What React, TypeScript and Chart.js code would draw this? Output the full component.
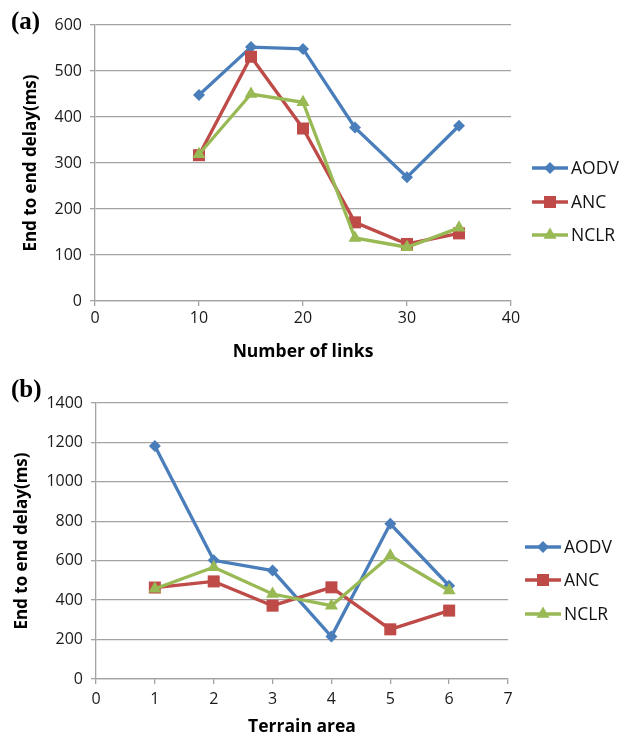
import React, { useEffect, useRef } from 'react';
import { Chart, registerables } from 'chart.js';
Chart.register(...registerables);

// ---- data ----
const linksX = [10, 15, 20, 25, 30, 35];
const aodvLinks = [448, 552, 548, 377, 269, 381];
const ancLinks = [317, 531, 375, 171, 124, 147];
const nclrLinks = [319, 450, 432, 137, 117, 159];

const terrainX = [1, 2, 3, 4, 5, 6];
const aodvTerrain = [1182, 602, 550, 215, 787, 473];
const ancTerrain = [464, 495, 372, 465, 252, 347];
const nclrTerrain = [458, 567, 431, 372, 625, 449];

const seriesNames = ['AODV', 'ANC', 'NCLR'];
const seriesColors = ['#4a7ebb', '#be4b48', '#98b954'];
const seriesMarkers = ['rectRot', 'rect', 'triangle'];
const markerRadius = [6, 8.5, 7.5];

const yTitle = 'End to end delay(ms)';
const FONT = "'Open Sans', 'DejaVu Sans', sans-serif";
const GRID = '#a3a3a3';

function drawMarker(ctx: CanvasRenderingContext2D, style: string, x: number, y: number, r: number) {
  ctx.beginPath();
  if (style === 'rectRot') {
    ctx.moveTo(x, y - r);
    ctx.lineTo(x + r, y);
    ctx.lineTo(x, y + r);
    ctx.lineTo(x - r, y);
  } else if (style === 'rect') {
    const s = r * Math.SQRT1_2;
    ctx.rect(x - s, y - s, 2 * s, 2 * s);
  } else {
    ctx.moveTo(x, y - r);
    ctx.lineTo(x + r * 0.866, y + r / 2);
    ctx.lineTo(x - r * 0.866, y + r / 2);
  }
  ctx.closePath();
  ctx.fill();
}

const sideLegend = {
  id: 'sideLegend',
  afterDraw(chart: any, _args: any, opts: any) {
    const ctx: CanvasRenderingContext2D = chart.ctx;
    ctx.save();
    seriesNames.forEach((name, i) => {
      const y = opts.ys[i];
      ctx.strokeStyle = seriesColors[i];
      ctx.fillStyle = seriesColors[i];
      ctx.lineWidth = 3.3;
      ctx.beginPath();
      ctx.moveTo(opts.x, y);
      ctx.lineTo(opts.x + 36, y);
      ctx.stroke();
      drawMarker(ctx, seriesMarkers[i], opts.x + 18, y, markerRadius[i]);
      ctx.fillStyle = '#111';
      ctx.font = `17.5px ${FONT}`;
      ctx.textBaseline = 'middle';
      ctx.textAlign = 'left';
      ctx.fillText(name, opts.x + 39, y + 1);
    });
    ctx.restore();
  },
};

type PanelProps = {
  top: number;
  height: number;
  xs: number[];
  series: number[][];
  xMax: number;
  xStep: number;
  yMax: number;
  yStep: number;
  xTitle: string;
  letter: string;
  padTop: number;
  padRight: number;
  yWidth: number;
  xHeight: number;
  yTitlePad: number;
  xTitlePad: number;
  xTickPad: number;
  legendX: number;
  legendYs: number[];
};

function Panel(p: PanelProps) {
  const ref = useRef<HTMLCanvasElement>(null);
  useEffect(() => {
    const canvas = ref.current!;
    const datasets = seriesNames.map((name, i) => ({
      label: name,
      data: p.xs.map((x, j) => ({ x, y: p.series[i][j] })),
      borderColor: seriesColors[i],
      backgroundColor: seriesColors[i],
      borderWidth: 3.3,
      pointStyle: seriesMarkers[i],
      pointRadius: markerRadius[i],
      pointBorderWidth: 0,
      pointBackgroundColor: seriesColors[i],
      tension: 0,
      order: 2 - i,
    }));
    const chart = new Chart(canvas, {
      type: 'line',
      data: { datasets },
      plugins: [sideLegend],
      options: {
        animation: false,
        responsive: false,
        devicePixelRatio: 1,
        layout: { padding: { top: p.padTop, right: p.padRight, left: 0, bottom: 0 } },
        plugins: {
          legend: { display: false },
          tooltip: { enabled: false },
          sideLegend: { x: p.legendX, ys: p.legendYs },
        } as any,
        scales: {
          x: {
            type: 'linear',
            min: 0,
            max: p.xMax,
            afterFit: (s: any) => { s.height = p.xHeight; },
            ticks: {
              stepSize: p.xStep,
              color: '#1a1a1a',
              font: { family: FONT, size: 16 },
              padding: p.xTickPad,
              maxRotation: 0,
              callback: (v: any) => String(v),
            },
            grid: { drawOnChartArea: false, drawTicks: true, tickLength: 5, color: GRID, lineWidth: 1.3 },
            border: { color: GRID, width: 1.3 },
            title: {
              display: true,
              text: p.xTitle,
              color: '#000',
              font: { family: FONT, size: 17.5, weight: 'bold' },
              padding: { top: 0, bottom: p.xTitlePad },
            },
          },
          y: {
            type: 'linear',
            min: 0,
            max: p.yMax,
            afterFit: (s: any) => { s.width = p.yWidth; },
            ticks: {
              stepSize: p.yStep,
              color: '#1a1a1a',
              font: { family: FONT, size: 16 },
              padding: 8,
              callback: (v: any) => String(v),
            },
            grid: { color: GRID, lineWidth: 1.3, tickLength: 5 },
            border: { color: GRID, width: 1.3 },
            title: {
              display: true,
              text: yTitle,
              color: '#000',
              font: { family: FONT, size: 17, weight: 'bold' },
              padding: { top: p.yTitlePad, bottom: 0 },
            },
          },
        },
      } as any,
    });
    return () => chart.destroy();
  }, []);
  return (
    <div style={{ position: 'absolute', left: 0, top: p.top, width: 624, height: p.height }}>
      <canvas ref={ref} width={624} height={p.height} style={{ display: 'block' }} />
      <div
        style={{
          position: 'absolute',
          left: 11,
          top: 7,
          fontFamily: "'Liberation Serif', 'DejaVu Serif', serif",
          fontWeight: 'bold',
          fontSize: 25,
          lineHeight: '28px',
          color: '#000',
        }}
      >
        {p.letter}
      </div>
    </div>
  );
}

export default function App() {
  return (
    <div style={{ position: 'absolute', left: 0, top: 0, width: 624, height: 738, background: '#fff' }}>
      <Panel
        top={0}
        height={368}
        xs={linksX}
        series={[aodvLinks, ancLinks, nclrLinks]}
        xMax={40}
        xStep={10}
        yMax={600}
        yStep={100}
        xTitle="Number of links"
        letter="(a)"
        padTop={25}
        padRight={113}
        yWidth={95}
        xHeight={67}
        yTitlePad={21}
        xTitlePad={5}
        xTickPad={3}
        legendX={532}
        legendYs={[168, 202, 235]}
      />
      <Panel
        top={368}
        height={370}
        xs={terrainX}
        series={[aodvTerrain, ancTerrain, nclrTerrain]}
        xMax={7}
        xStep={1}
        yMax={1400}
        yStep={200}
        xTitle="Terrain area"
        letter="(b)"
        padTop={35}
        padRight={116}
        yWidth={96}
        xHeight={59}
        yTitlePad={12}
        xTitlePad={0}
        xTickPad={6}
        legendX={525}
        legendYs={[179, 212, 246]}
      />
    </div>
  );
}
